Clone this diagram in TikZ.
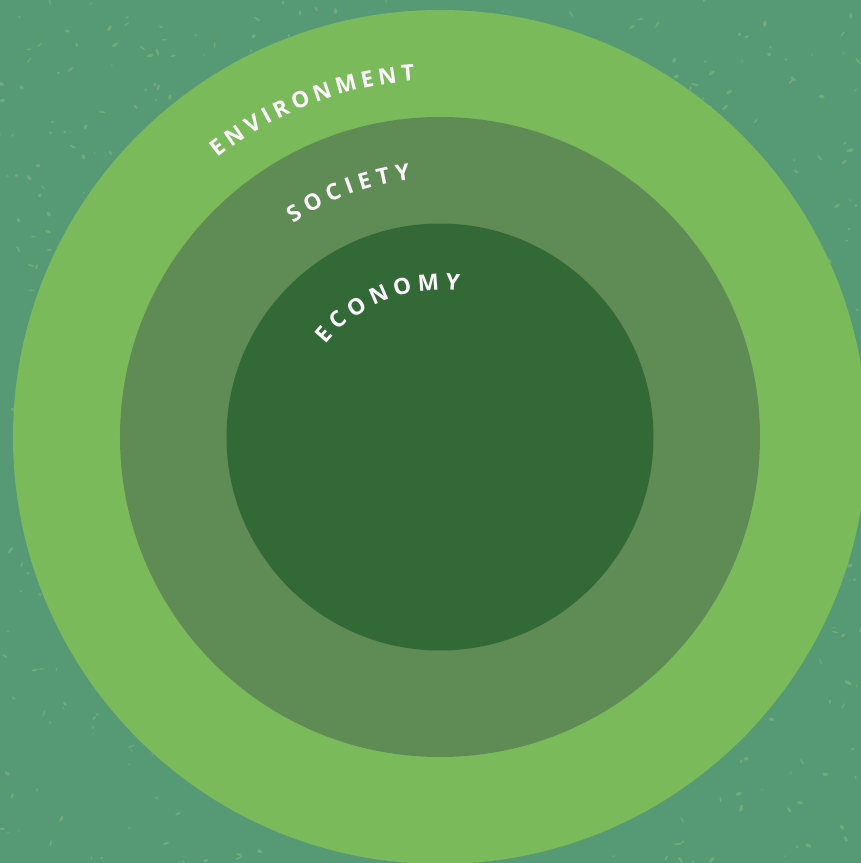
\documentclass[tikz,border=0pt]{standalone}
\usepackage{fontspec}
\setmainfont{Open Sans}
\usetikzlibrary{decorations.text}
\definecolor{bgc}{HTML}{559A75}
\definecolor{speck}{HTML}{84B47A}
\definecolor{envc}{HTML}{7ABA5A}
\definecolor{socc}{HTML}{5F8C55}
\definecolor{ecoc}{HTML}{336936}
\newcommand{\ringfont}{\bfseries\fontsize{22.5}{22.5}\selectfont}
\begin{document}
\begin{tikzpicture}[x=1pt,y=1pt,
  ringtext/.style={decorate, decoration={text along path, text align={fit to path}, text color=white, text={|\ringfont|#1}}}]
\useasboundingbox (-440,-426) rectangle (421,437);
\fill[bgc] (-440,-426) rectangle (421,437);
% texture speckles
\pgfmathsetseed{4217}
\foreach \i in {1,...,900}{
  \pgfmathsetmacro{\px}{-440+861*rnd}
  \pgfmathsetmacro{\py}{-426+863*rnd}
  \pgfmathsetmacro{\ra}{0.8+3.2*rnd}
  \pgfmathsetmacro{\rb}{0.5+1.3*rnd}
  \pgfmathsetmacro{\rot}{360*rnd}
  \fill[speck, opacity=0.6, rotate around={\rot:(\px,\py)}] (\px,\py) ellipse [x radius=\ra, y radius=\rb];
}
\fill[envc] (0,0) circle (427);
\fill[socc] (0,0) circle (320);
\fill[ecoc] (0,0) circle (213.5);
\path[ringtext={ENVIRONMENT}] (128.5:357) arc[start angle=128.5, end angle=94, radius=357];
\path[ringtext={SOCIETY}] (124.5:259) arc[start angle=124.5, end angle=96.5, radius=259];
\path[ringtext={ECONOMY}] (141:147) arc[start angle=141, end angle=82.5, radius=147];
\end{tikzpicture}
\end{document}
